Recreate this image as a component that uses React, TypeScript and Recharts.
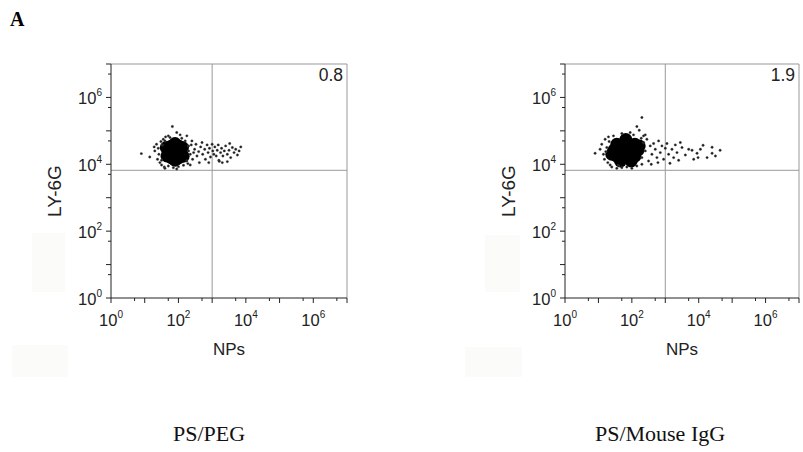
import React from 'react';
import { ScatterChart, Scatter, XAxis, YAxis, ReferenceLine } from 'recharts';

// values are log10 of fluorescence intensity (decades)
const axisTicks = [0, 0.699, 1, 1.699, 2, 2.699, 3, 3.699, 4, 4.699, 5, 5.699, 6, 6.699, 7];
const labeledDecades = [0, 2, 4, 6];
const xGate = 3;
const yGate = 3.82;
const panelTitles = ['PS/PEG', 'PS/Mouse IgG'];
const quadrantValues = ['0.8', '1.9'];
const xAxisName = 'NPs';
const yAxisName = 'LY-6G';

const pegCore: number[][] = [
  [1.9, 4.37], [1.72, 4.37], [2.08, 4.37], [1.8, 4.55], [2.0, 4.55], [1.8, 4.19], [2.0, 4.19],
  [1.66, 4.25], [2.12, 4.5], [1.9, 4.62], [1.9, 4.12], [1.64, 4.5], [2.14, 4.24],
];
const pegEvents: number[][] = [
  [1.82, 5.13], [1.95, 4.95], [2.05, 4.88], [1.7, 4.85], [0.9, 4.32], [1.15, 4.22], [1.28, 4.52],
  [1.3, 4.4], [1.35, 4.6], [1.38, 4.15], [1.42, 4.3], [1.45, 4.05], [1.48, 4.68], [1.4, 4.48],
  [1.5, 3.98], [1.55, 4.75], [1.58, 3.92], [1.62, 4.82], [1.7, 3.95], [1.85, 3.9], [2.0, 3.93],
  [2.15, 3.97], [2.28, 4.02], [1.6, 3.88], [2.3, 4.55], [2.35, 4.3], [2.4, 4.7], [2.42, 4.15],
  [2.48, 4.45], [2.52, 4.6], [2.55, 4.25], [2.6, 4.38], [2.62, 4.05], [2.66, 4.52], [2.7, 4.65],
  [2.72, 4.3], [2.78, 4.45], [2.8, 4.15], [2.85, 4.58], [2.88, 4.35], [2.92, 4.48], [2.95, 4.22],
  [3.0, 4.6], [3.02, 4.4], [3.05, 4.3], [3.08, 4.52], [3.12, 4.25], [3.15, 4.42], [3.18, 4.58],
  [3.2, 4.12], [3.25, 4.35], [3.28, 4.48], [3.32, 4.25], [3.36, 4.4], [3.4, 4.55], [3.45, 4.3],
  [3.5, 4.42], [3.55, 4.2], [3.6, 4.5], [3.65, 4.35], [3.7, 4.45], [3.75, 4.28], [3.8, 4.4],
  [3.85, 4.52], [3.52, 4.62], [3.3, 4.05], [3.45, 4.08], [2.9, 4.05], [3.21, 4.09], [1.75, 4.8],
  [2.1, 4.78], [2.2, 4.7], [2.25, 4.85], [1.6, 4.7], [2.3, 4.4], [2.38, 4.58], [2.45, 4.35],
  [1.52, 4.58], [1.5, 4.12], [2.25, 4.1], [2.35, 3.98], [1.95, 3.86],
];

const iggCore: number[][] = [
  [1.82, 4.42], [1.64, 4.42], [2.0, 4.42], [1.46, 4.42], [2.18, 4.42], [1.55, 4.6], [1.73, 4.6],
  [1.91, 4.6], [2.09, 4.6], [1.55, 4.24], [1.73, 4.24], [1.91, 4.24], [2.09, 4.24], [1.82, 4.74],
  [1.66, 4.1], [1.98, 4.1], [1.4, 4.3], [2.22, 4.55],
];
const iggEvents: number[][] = [
  [2.3, 5.4], [2.15, 5.13], [2.22, 5.02], [1.95, 4.95], [1.7, 4.92], [2.05, 4.88], [1.45, 4.85],
  [2.35, 4.85], [0.9, 4.33], [1.05, 4.45], [1.1, 4.6], [1.15, 4.3], [1.2, 4.75], [1.18, 4.15],
  [1.25, 4.5], [1.28, 4.05], [1.32, 4.68], [1.35, 3.98], [1.4, 3.92], [1.55, 3.88], [1.7, 3.9],
  [1.85, 3.92], [2.0, 3.88], [2.15, 3.95], [2.3, 4.0], [1.6, 3.96], [2.3, 4.2], [2.35, 4.65],
  [2.4, 4.4], [2.45, 4.75], [2.5, 4.1], [2.55, 4.55], [2.6, 4.3], [2.65, 4.62], [2.7, 4.45],
  [2.75, 4.2], [2.8, 4.7], [2.85, 4.35], [2.9, 4.55], [2.95, 4.15], [3.0, 4.48], [3.05, 4.62],
  [3.1, 4.3], [3.14, 4.03], [3.2, 4.45], [3.25, 4.2], [3.3, 4.58], [3.35, 4.35], [3.4, 4.12],
  [3.5, 4.5], [3.6, 4.28], [3.7, 4.45], [3.8, 4.42], [3.85, 4.15], [3.95, 4.33], [3.98, 4.2],
  [4.13, 4.57], [4.25, 4.2], [4.4, 4.51], [4.4, 4.33], [4.64, 4.42], [4.5, 4.25], [4.05, 4.45],
  [3.45, 4.65], [2.58, 4.0], [2.78, 4.05], [1.3, 4.82], [2.4, 4.88], [2.28, 4.78], [1.22, 4.38],
];

const toPoints = (rows: number[][]) => rows.map(([x, y]) => ({ x, y }));

const FONT = '"Liberation Sans", Arial, sans-serif';
const SERIF = '"Liberation Serif", "Times New Roman", serif';
const INK = '#222';
const GRID = '#999';

const isDecade = (v: number) => Math.abs(v - Math.round(v)) < 1e-6;

const XTick = (props: any) => {
  const { x, y, payload } = props;
  const v = payload.value as number;
  const dec = isDecade(v);
  const len = dec ? 5 : 3;
  const show = dec && labeledDecades.includes(Math.round(v));
  return (
    <g>
      <line x1={x} y1={y} x2={x} y2={y + len} stroke={INK} strokeWidth={1} />
      {show && (
        <text x={x} y={y + 28} textAnchor="middle" fontSize={16.5} fill={INK} fontFamily={FONT}>
          <tspan>10</tspan>
          <tspan dy={-8} fontSize={10}>{Math.round(v)}</tspan>
        </text>
      )}
    </g>
  );
};

const YTick = (props: any) => {
  const { x, y, payload } = props;
  const v = payload.value as number;
  const dec = isDecade(v);
  const len = dec ? 5 : 3;
  const show = dec && labeledDecades.includes(Math.round(v));
  return (
    <g>
      <line x1={x} y1={y} x2={x - len} y2={y} stroke={INK} strokeWidth={1} />
      {show && (
        <text x={x - 9} y={y + 7} textAnchor="end" fontSize={16.5} fill={INK} fontFamily={FONT}>
          <tspan>10</tspan>
          <tspan dy={-8} fontSize={10}>{Math.round(v)}</tspan>
        </text>
      )}
    </g>
  );
};

const EventDot = (props: any) => (
  <circle cx={props.cx} cy={props.cy} r={1.2} fill="#1a1a1a" stroke="#555" strokeWidth={0.4} />
);
const CoreDot = (props: any) => <circle cx={props.cx} cy={props.cy} r={6.5} fill="#000" />;

type PanelProps = {
  left: number;
  width: number;
  marginRight: number;
  core: number[][];
  events: number[][];
  value: string;
};

const Panel = ({ left, width, marginRight, core, events, value }: PanelProps) => (
  <div style={{ position: 'absolute', left, top: 0 }}>
    <ScatterChart
      width={width}
      height={380}
      margin={{ top: 64, right: marginRight, bottom: 52, left: 0 }}
    >
      <XAxis
        type="number"
        dataKey="x"
        domain={[0, 7]}
        ticks={axisTicks}
        interval={0}
        height={30}
        tickSize={0}
        tickMargin={0}
        tickLine={false}
        tick={<XTick />}
        axisLine={{ stroke: INK, strokeWidth: 1 }}
        allowDataOverflow
        label={{
          content: (p: any) => {
            const vb = p.viewBox;
            return (
              <text x={vb.x + vb.width / 2} y={vb.y + 57} textAnchor="middle" fontSize={17} fill={INK} fontFamily={FONT}>
                {xAxisName}
              </text>
            );
          },
        }}
      />
      <YAxis
        type="number"
        dataKey="y"
        domain={[0, 7]}
        ticks={axisTicks}
        interval={0}
        width={111}
        tickSize={0}
        tickMargin={0}
        tickLine={false}
        tick={<YTick />}
        axisLine={{ stroke: INK, strokeWidth: 1 }}
        allowDataOverflow
        label={{
          content: (p: any) => {
            const vb = p.viewBox;
            const cx = vb.x + 61;
            const cy = vb.y + vb.height / 2 + 10;
            return (
              <text x={cx} y={cy} textAnchor="middle" fontSize={19} fill={INK} fontFamily={FONT} transform={`rotate(-90 ${cx} ${cy})`}>
                {yAxisName}
              </text>
            );
          },
        }}
      />
      <ReferenceLine
        y={7}
        stroke={GRID}
        strokeWidth={1}
        label={{
          content: (p: any) => {
            const vb = p.viewBox;
            return (
              <text x={vb.x + vb.width - 4} y={vb.y + 17} textAnchor="end" fontSize={17.5} fill={INK} fontFamily={FONT}>
                {value}
              </text>
            );
          },
        }}
      />
      <ReferenceLine x={7} stroke={GRID} strokeWidth={1} />
      <ReferenceLine x={xGate} stroke={GRID} strokeWidth={1} />
      <ReferenceLine y={yGate} stroke={GRID} strokeWidth={1} />
      <Scatter data={toPoints(core)} shape={<CoreDot />} isAnimationActive={false} />
      <Scatter data={toPoints(events)} shape={<EventDot />} isAnimationActive={false} />
    </ScatterChart>
  </div>
);

const faint = (l: number, t: number, w: number, h: number) => (
  <div style={{ position: 'absolute', left: l, top: t, width: w, height: h, background: '#fbfbfa' }} />
);

export default function App() {
  return (
    <div style={{ position: 'absolute', left: 0, top: 0, width: 803, height: 452, background: '#fff', overflow: 'hidden' }}>
      {faint(32, 233, 33, 59)}
      {faint(12, 345, 56, 32)}
      {faint(485, 235, 35, 57)}
      {faint(465, 347, 57, 30)}
      <Panel left={0} width={360} marginRight={13} core={pegCore} events={pegEvents} value={quadrantValues[0]} />
      <Panel left={454} width={349} marginRight={4} core={iggCore} events={iggEvents} value={quadrantValues[1]} />
      <svg width={803} height={452} style={{ position: 'absolute', left: 0, top: 0, pointerEvents: 'none' }}>
        <text x={10} y={26} fontSize={20} fontWeight="bold" fontFamily={SERIF} fill="#000">A</text>
        <text x={209} y={441} textAnchor="middle" fontSize={22} fontFamily={SERIF} fill="#111">{panelTitles[0]}</text>
        <text x={660} y={441} textAnchor="middle" fontSize={22} fontFamily={SERIF} fill="#111">{panelTitles[1]}</text>
      </svg>
    </div>
  );
}
